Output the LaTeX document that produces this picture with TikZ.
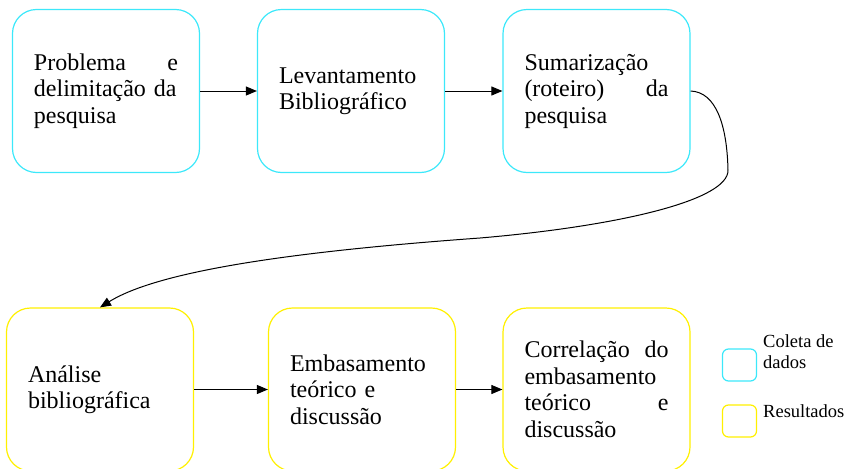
\documentclass[tikz,border=0pt]{standalone}
\usepackage{fontspec}
\setmainfont{Liberation Serif}
\usetikzlibrary{arrows.meta}
\definecolor{coleta}{RGB}{60,232,250}
\definecolor{result}{RGB}{255,240,0}
\tikzset{
 etapa/.style={draw, line width=1.2pt, rounded corners=24pt, minimum width=187pt,
   minimum height=163pt, text width=144pt, align=left, inner sep=0pt,
   font=\fontsize{24}{26.5}\selectfont},
 legbox/.style={draw, line width=1.2pt, rounded corners=6pt, minimum width=34pt,
   minimum height=32pt, inner sep=0pt},
 legtxt/.style={anchor=west, align=left, inner sep=0pt, font=\fontsize{18.5}{21}\selectfont},
 seta/.style={line width=1pt, -{Triangle[length=11pt,width=9pt]}}
}
\begin{document}
\begin{tikzpicture}[x=1pt,y=-1pt]
\useasboundingbox (0,0) rectangle (855,469);
% linha de cima
\node[etapa, draw=coleta] (prob) at (106,91) {Problema \hfill e\\delimitação da\\pesquisa};
\node[etapa, draw=coleta] (lev) at (351,91) {Levantamento\\Bibliográfico};
\node[etapa, draw=coleta] (sum) at (596.5,91) {Sumarização\\(roteiro) \hfill da\\pesquisa};
% linha de baixo
\node[etapa, draw=result] (ana) at (100,389.5) {Análise\\bibliográfica};
\node[etapa, draw=result] (emb) at (362,389.5) {Embasamento\\teórico e\\discussão};
\node[etapa, draw=result] (cor) at (596.5,389.5) {Correlação \hfill do\\embasamento\\teórico \hfill e\\discussão};
% legenda
\node[legbox, draw=coleta] (lgcol) at (739.5,365) {};
\node[legbox, draw=result] (lgres) at (739.5,421) {};
\node[legtxt] (txcol) at (763,352) {Coleta de\\dados};
\node[legtxt] (txres) at (763,411) {Resultados};
% setas
\draw[seta] (prob) -- (lev);
\draw[seta] (lev) -- (sum);
\draw[seta] (ana) -- (emb);
\draw[seta] (emb) -- (cor);
\coordinate (volta) at (728,170);
\coordinate (meio) at (480,238);
\draw[seta] (sum.east) .. controls (716,92) and (727,125) .. (volta)
  .. controls (729,200) and (620,226) .. (meio)
  .. controls (300,251) and (160,270) .. (ana.north);
\end{tikzpicture}
\end{document}
